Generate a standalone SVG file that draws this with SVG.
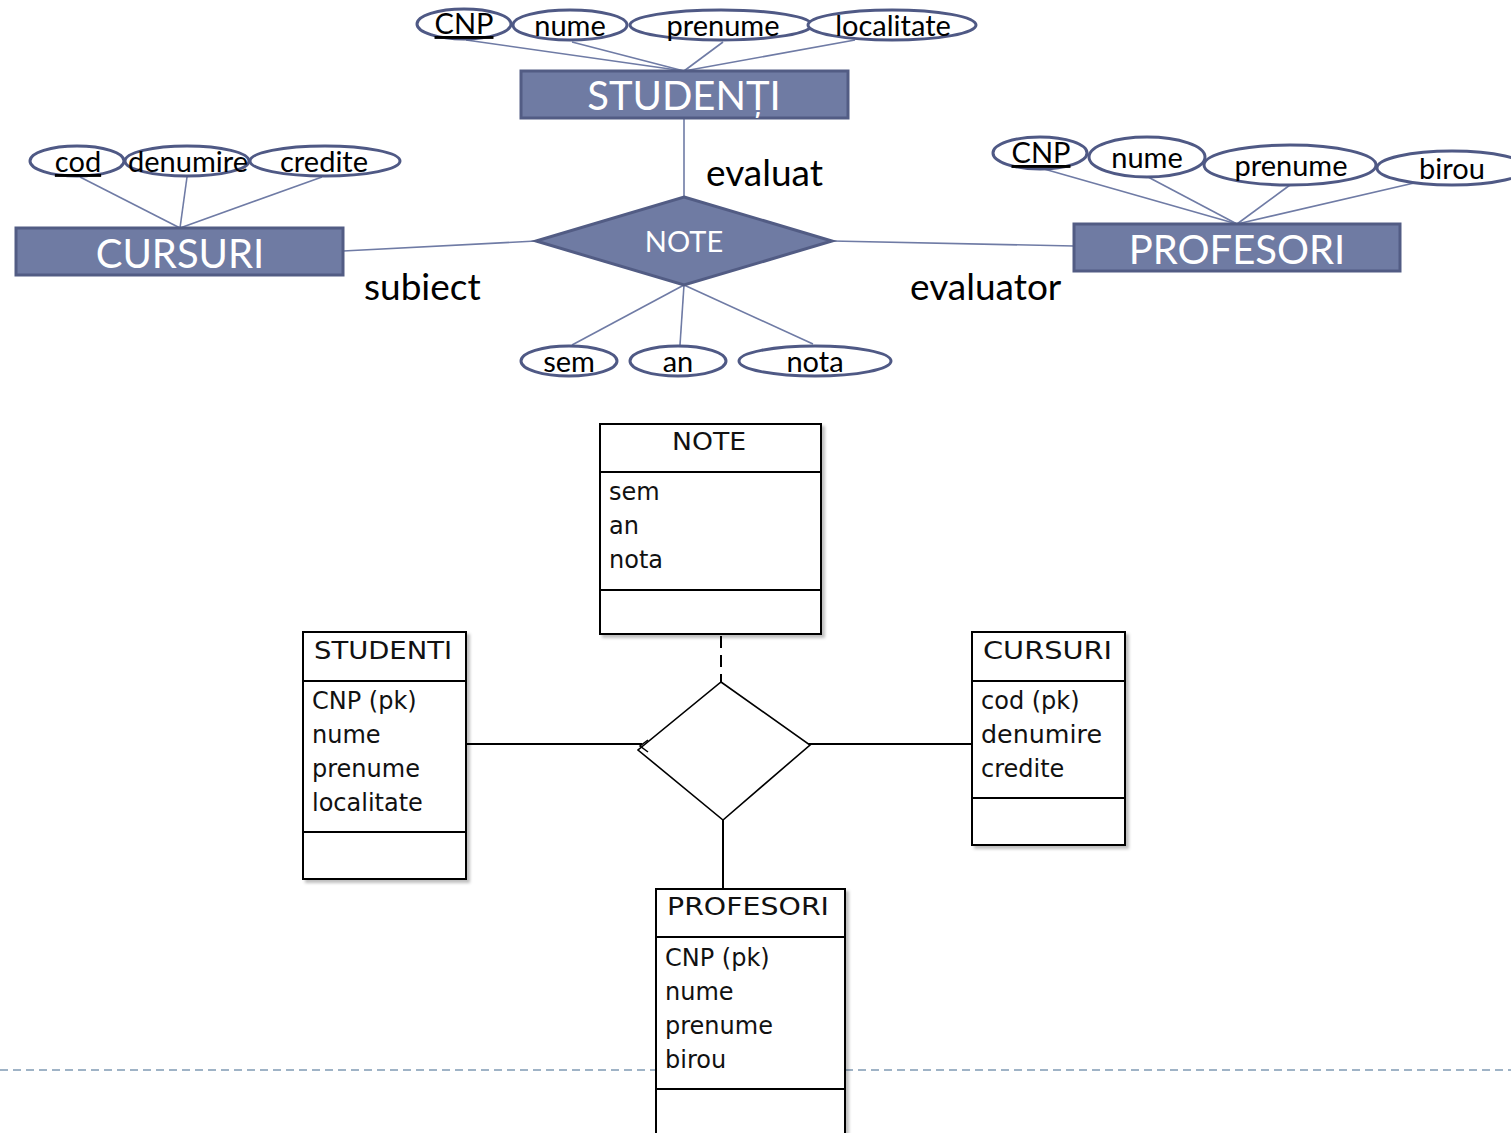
<svg xmlns="http://www.w3.org/2000/svg" width="1511" height="1133" viewBox="0 0 1511 1133">
<defs>
<style>
.ent{fill:#6F7BA3;stroke:#525C84;stroke-width:3}
.att{fill:#fff;stroke:#4F5985;stroke-width:3}
.lnk{stroke:#6F7BA5;stroke-width:1.6;fill:none}
.et{font-family:Lato,"Open Sans",sans-serif;fill:#fff;text-anchor:middle}
.at{font-family:Lato,"Open Sans",sans-serif;font-size:29px;fill:#000;text-anchor:middle}
.rl{font-family:Lato,"Open Sans",sans-serif;font-size:37px;fill:#000}
.box{fill:#fff;stroke:#000;stroke-width:2}
.sep{stroke:#000;stroke-width:2}
.ut{font-family:"DejaVu Sans",sans-serif;font-size:24px;fill:#111}
.ul{stroke:#000;stroke-width:2;fill:none}
</style>
<filter id="sh" x="-10%" y="-10%" width="130%" height="130%">
<feDropShadow dx="3" dy="3" stdDeviation="1.5" flood-color="#000" flood-opacity="0.25"/>
</filter>
</defs>
<rect width="1511" height="1133" fill="#fff"/>
<line x1="0" y1="1070" x2="1511" y2="1070" stroke="#9FB3C6" stroke-width="2" stroke-dasharray="8,5"/>

<g id="connectors">
<line class="lnk" x1="466" y1="40" x2="684" y2="71"/>
<line class="lnk" x1="572" y1="42" x2="684" y2="71"/>
<line class="lnk" x1="723" y1="42" x2="684" y2="71"/>
<line class="lnk" x1="855" y1="40" x2="684" y2="71"/>
<line class="lnk" x1="684" y1="118" x2="684" y2="197"/>
<line class="lnk" x1="80" y1="177" x2="180" y2="228"/>
<line class="lnk" x1="187" y1="177" x2="180" y2="228"/>
<line class="lnk" x1="322" y1="177" x2="180" y2="228"/>
<line class="lnk" x1="343" y1="251" x2="536" y2="241"/>
<line class="lnk" x1="832" y1="241" x2="1074" y2="246"/>
<line class="lnk" x1="1044" y1="169" x2="1237" y2="224"/>
<line class="lnk" x1="1148" y1="177" x2="1237" y2="224"/>
<line class="lnk" x1="1290" y1="185" x2="1237" y2="224"/>
<line class="lnk" x1="1427" y1="180" x2="1237" y2="224"/>
<line class="lnk" x1="684" y1="285" x2="572" y2="345"/>
<line class="lnk" x1="684" y1="285" x2="680" y2="345"/>
<line class="lnk" x1="684" y1="285" x2="813" y2="344"/>
<line class="ul" x1="721" y1="636" x2="721" y2="682" stroke-dasharray="12,7"/>
<line class="ul" x1="466" y1="744" x2="642" y2="744"/>
<line class="ul" x1="808" y1="744" x2="972" y2="744"/>
<line class="ul" x1="723" y1="820" x2="723" y2="889"/>
</g>

<g id="er-studenti">
<rect class="ent" x="521" y="71" width="327" height="47"/>
<text class="et" x="684" y="110" font-size="40">STUDENȚI</text>
</g>
<g id="er-studenti-attrs">
<ellipse class="att" cx="464" cy="24" rx="47" ry="15"/>
<text class="at" x="464" y="34" text-decoration="underline">CNP</text>
<ellipse class="att" cx="570" cy="25" rx="57" ry="15"/>
<text class="at" x="570" y="36">nume</text>
<ellipse class="att" cx="721" cy="25" rx="91" ry="15"/>
<text class="at" x="723" y="36">prenume</text>
<ellipse class="att" cx="892" cy="25" rx="84" ry="15"/>
<text class="at" x="893" y="36">localitate</text>
</g>

<g id="er-cursuri">
<rect class="ent" x="16" y="228" width="327" height="47"/>
<text class="et" x="180" y="268" font-size="40">CURSURI</text>
</g>
<g id="er-cursuri-attrs">
<ellipse class="att" cx="77" cy="161" rx="47" ry="15"/>
<text class="at" x="78" y="172" text-decoration="underline">cod</text>
<ellipse class="att" cx="187" cy="161" rx="62" ry="15"/>
<text class="at" x="188" y="172">denumire</text>
<ellipse class="att" cx="325" cy="161" rx="75" ry="15"/>
<text class="at" x="324" y="172">credite</text>
</g>

<g id="er-profesori">
<rect class="ent" x="1074" y="224" width="326" height="47"/>
<text class="et" x="1237" y="264" font-size="40">PROFESORI</text>
</g>
<g id="er-profesori-attrs">
<ellipse class="att" cx="1040" cy="153" rx="47" ry="16"/>
<text class="at" x="1041" y="163" text-decoration="underline">CNP</text>
<ellipse class="att" cx="1147" cy="157" rx="58" ry="20"/>
<text class="at" x="1147" y="168">nume</text>
<ellipse class="att" cx="1290" cy="165" rx="86" ry="20"/>
<text class="at" x="1291" y="176">prenume</text>
<ellipse class="att" cx="1452" cy="168" rx="75" ry="17"/>
<text class="at" x="1452" y="179">birou</text>
</g>

<g id="er-note">
<polygon class="ent" points="684,197 832,241 684,285 536,241"/>
<text class="et" x="684" y="252" font-size="29">NOTE</text>
</g>
<g id="er-note-attrs">
<ellipse class="att" cx="569" cy="361" rx="48" ry="15"/>
<text class="at" x="569" y="372">sem</text>
<ellipse class="att" cx="678" cy="361" rx="48" ry="15"/>
<text class="at" x="678" y="372">an</text>
<ellipse class="att" cx="815" cy="361" rx="76" ry="15"/>
<text class="at" x="815" y="372">nota</text>
</g>

<g id="roles">
<text class="rl" x="706" y="186">evaluat</text>
<text class="rl" x="364" y="300">subiect</text>
<text class="rl" x="910" y="300">evaluator</text>
</g>

<g id="uml-note">
<rect class="box" x="600" y="424" width="221" height="210" filter="url(#sh)"/>
<line class="sep" x1="600" y1="472" x2="821" y2="472"/>
<line class="sep" x1="600" y1="590" x2="821" y2="590"/>
<text class="ut" x="672" y="450" textLength="74" lengthAdjust="spacingAndGlyphs">NOTE</text>
<text class="ut" x="609" y="500">sem</text>
<text class="ut" x="609" y="534">an</text>
<text class="ut" x="609" y="568">nota</text>
</g>

<g id="uml-relation">
<polygon points="721,682 810,745 723,820 638,750" fill="#fff" stroke="#000" stroke-width="1.6"/>
<polyline points="648,740 640,746 648,752" fill="none" stroke="#000" stroke-width="1.5"/>
</g>

<g id="uml-studenti">
<rect class="box" x="303" y="632" width="163" height="247" filter="url(#sh)"/>
<line class="sep" x1="303" y1="681" x2="466" y2="681"/>
<line class="sep" x1="303" y1="832" x2="466" y2="832"/>
<text class="ut" x="314" y="659" textLength="138" lengthAdjust="spacingAndGlyphs">STUDENTI</text>
<text class="ut" x="312" y="709">CNP (pk)</text>
<text class="ut" x="312" y="743">nume</text>
<text class="ut" x="312" y="777">prenume</text>
<text class="ut" x="312" y="811">localitate</text>
</g>

<g id="uml-cursuri">
<rect class="box" x="972" y="632" width="153" height="213" filter="url(#sh)"/>
<line class="sep" x1="972" y1="681" x2="1125" y2="681"/>
<line class="sep" x1="972" y1="798" x2="1125" y2="798"/>
<text class="ut" x="983" y="659" textLength="129" lengthAdjust="spacingAndGlyphs">CURSURI</text>
<text class="ut" x="981" y="709">cod (pk)</text>
<text class="ut" x="981" y="743" textLength="121" lengthAdjust="spacingAndGlyphs">denumire</text>
<text class="ut" x="981" y="777">credite</text>
</g>

<g id="uml-profesori">
<rect class="box" x="656" y="889" width="189" height="260" filter="url(#sh)"/>
<line class="sep" x1="656" y1="937" x2="845" y2="937"/>
<line class="sep" x1="656" y1="1089" x2="845" y2="1089"/>
<text class="ut" x="667" y="915" textLength="162" lengthAdjust="spacingAndGlyphs">PROFESORI</text>
<text class="ut" x="665" y="966">CNP (pk)</text>
<text class="ut" x="665" y="1000">nume</text>
<text class="ut" x="665" y="1034">prenume</text>
<text class="ut" x="665" y="1068">birou</text>
</g>
</svg>
